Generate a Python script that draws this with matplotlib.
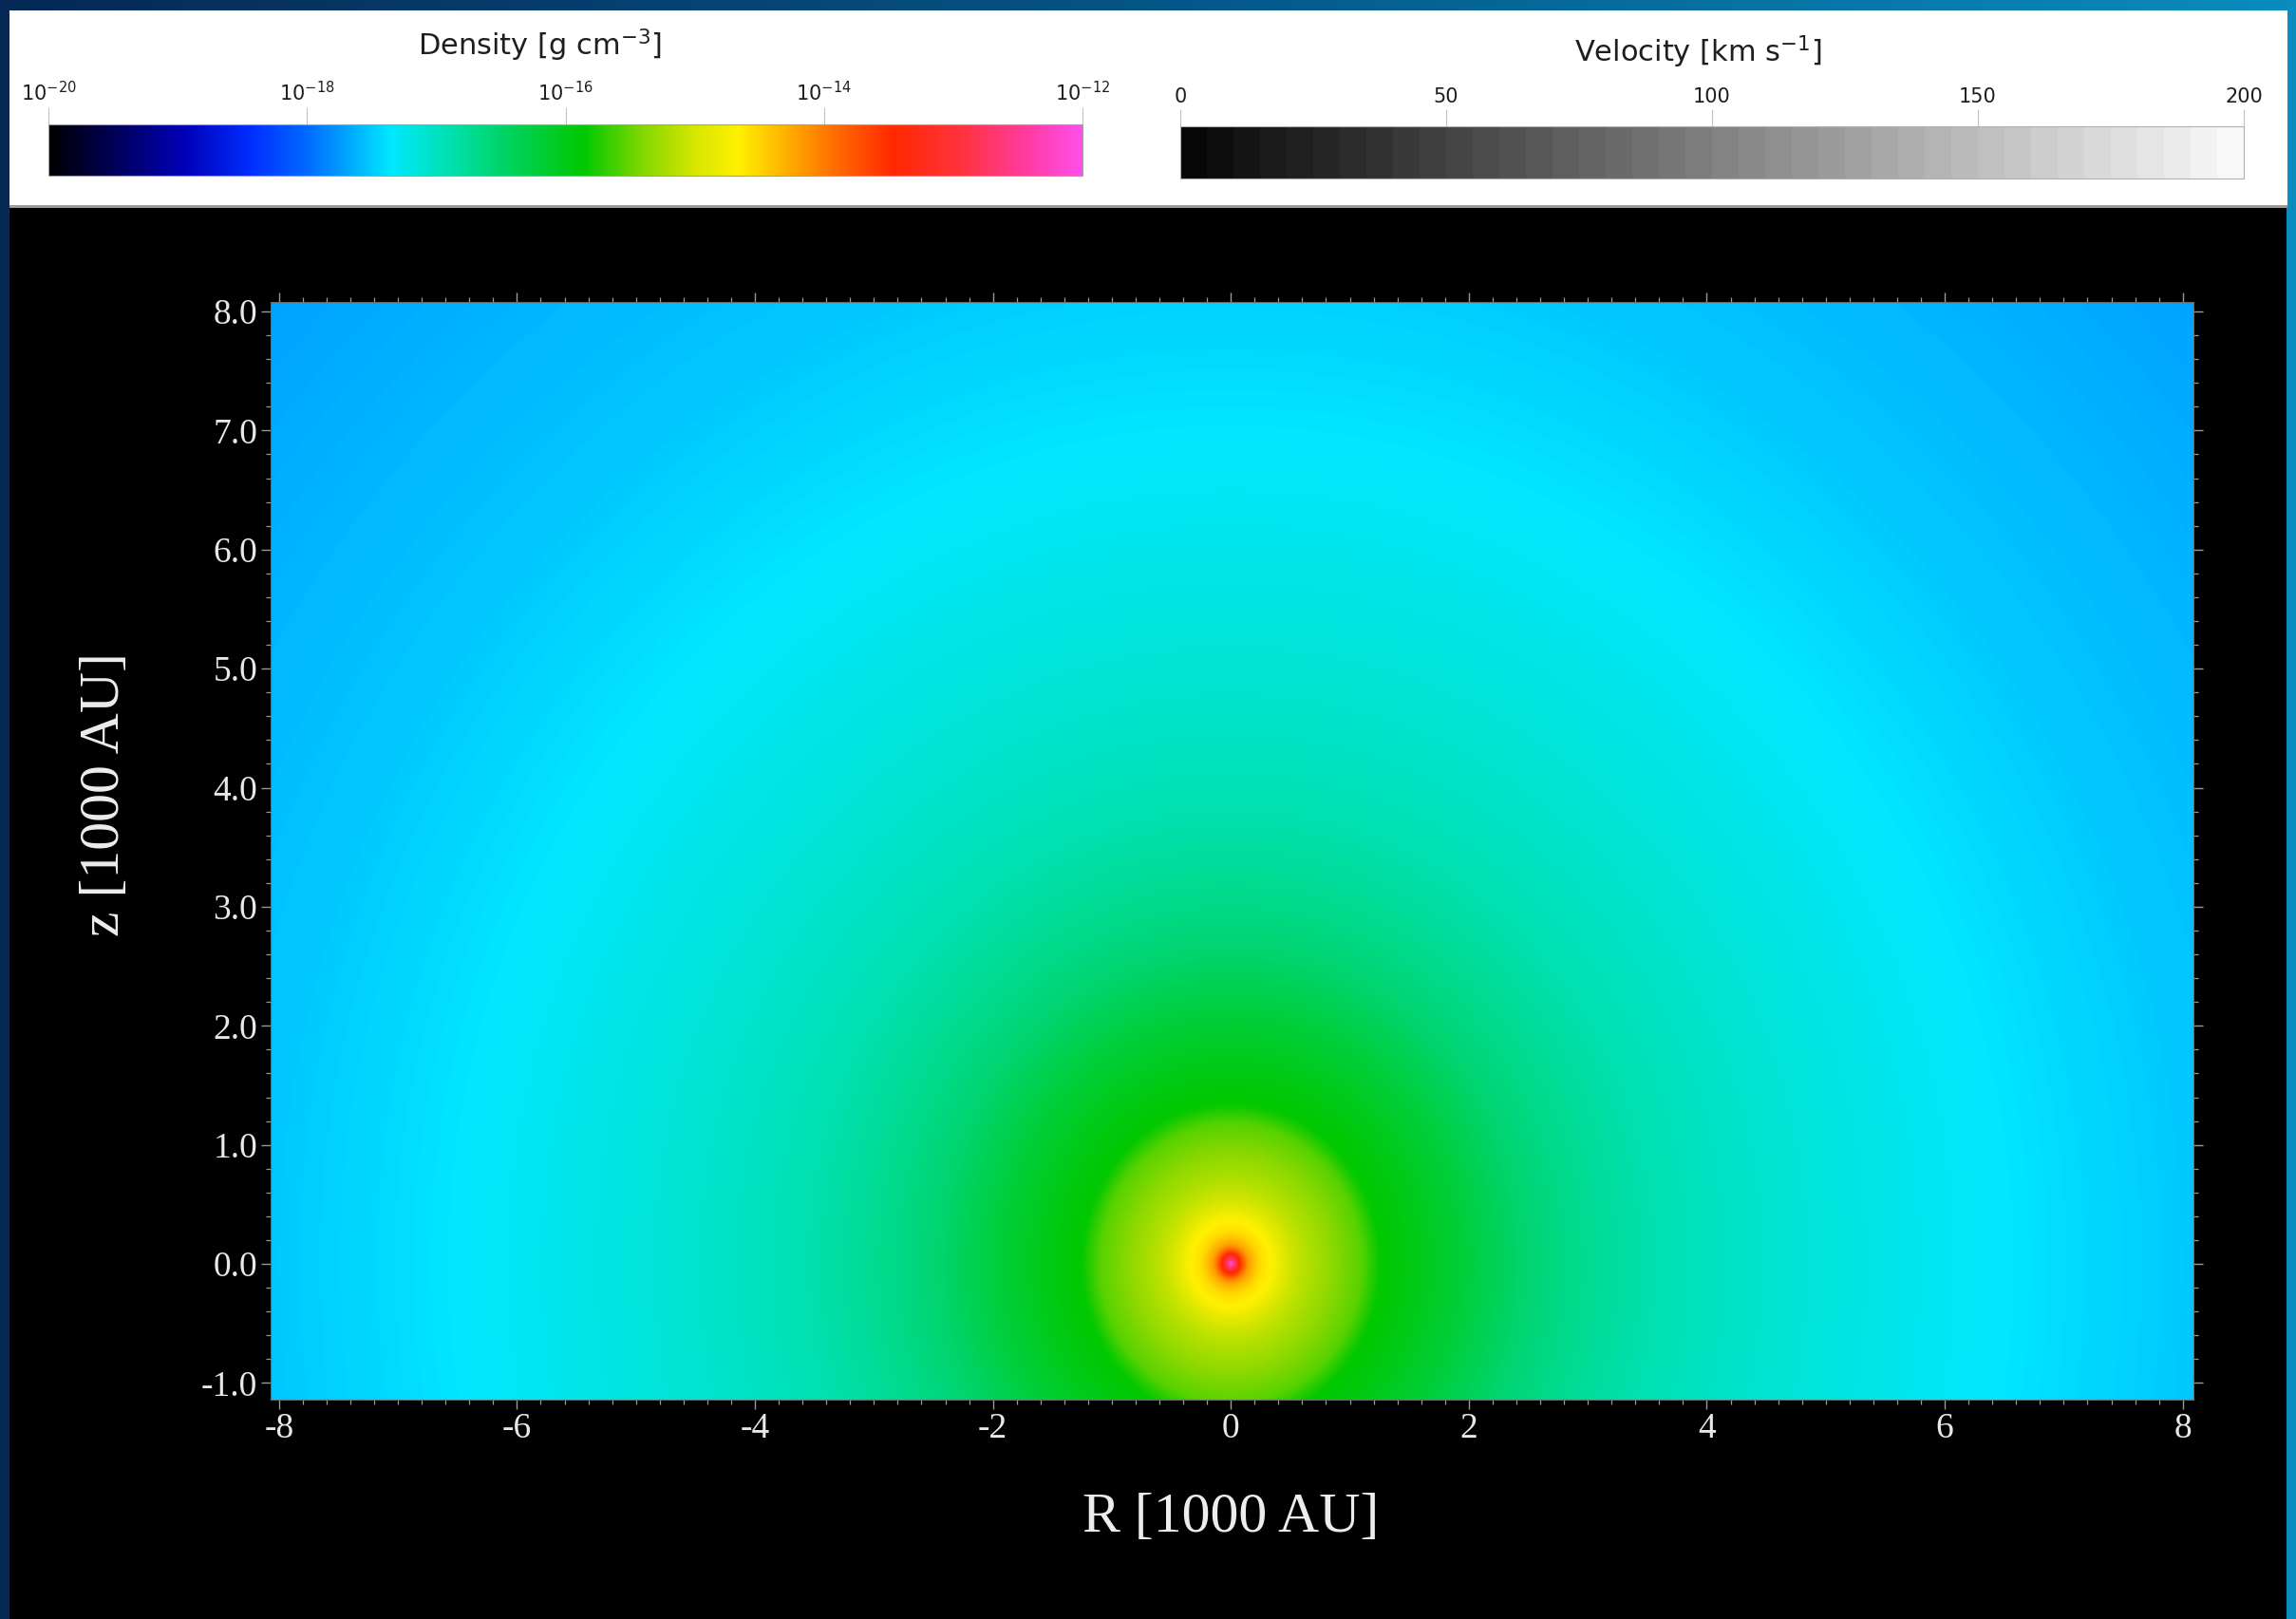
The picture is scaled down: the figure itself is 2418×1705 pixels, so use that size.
import numpy as np
import matplotlib
matplotlib.use("Agg")
import matplotlib.pyplot as plt
from matplotlib.colors import LinearSegmentedColormap, ListedColormap, Normalize
from matplotlib.patches import Rectangle
from matplotlib.ticker import MultipleLocator, FixedLocator
import matplotlib.cm as cm

# ---------------- data ----------------
# radial density profile around the central source (r in 1000 AU, log10 rho in g cm^-3)
radius_kau = [0.01, 0.04, 0.08, 0.15, 0.25, 0.36, 0.5, 0.8, 1.1, 1.25, 1.6,
              2.0, 2.5, 3.5, 5.0, 6.5, 8.0, 9.5, 11.5]
log_density = [-12.1, -12.8, -13.5, -14.2, -14.55, -14.7, -15.02, -15.3, -15.55, -15.84, -16.02,
               -16.24, -16.55, -16.88, -17.15, -17.35, -17.5, -17.6, -17.72]
vertical_stretch = 1.07   # slight elongation of iso-density contours along z

# density colour table (log10 rho -> colour)
cmap_levels = [-20.0, -19.6, -18.95, -18.44, -18.0, -17.64, -17.35, -16.95, -16.5,
               -15.86, -15.4, -15.0, -14.66, -14.2, -13.8, -13.46, -12.94, -12.37, -12.0]
cmap_colors = [(0, 0, 0), (0, 0, 70), (0, 0, 185), (0, 45, 255), (0, 105, 255),
               (0, 175, 255), (0, 232, 255), (0, 226, 185), (0, 212, 105),
               (0, 200, 0), (130, 215, 0), (215, 230, 0), (255, 240, 0), (255, 160, 0),
               (255, 90, 0), (255, 40, 0), (255, 50, 60), (255, 60, 170), (255, 80, 235)]

density_ticks = [-20, -18, -16, -14, -12]
density_ticklabels = [r"$10^{-20}$", r"$10^{-18}$", r"$10^{-16}$", r"$10^{-14}$", r"$10^{-12}$"]
velocity_ticks = [0, 50, 100, 150, 200]
velocity_ticklabels = ["0", "50", "100", "150", "200"]
velocity_steps = 40

r_ticks = [-8, -6, -4, -2, 0, 2, 4, 6, 8]
r_ticklabels = ["-8", "-6", "-4", "-2", "0", "2", "4", "6", "8"]
z_ticks = [-1.0, 0.0, 1.0, 2.0, 3.0, 4.0, 5.0, 6.0, 7.0, 8.0]
z_ticklabels = ["-1.0", "0.0", "1.0", "2.0", "3.0", "4.0", "5.0", "6.0", "7.0", "8.0"]
r_limits = (-8.07, 8.09)
z_limits = (-1.14, 8.08)

# ---------------- figure ----------------
W, H = 2418, 1705
fig = plt.figure(figsize=(W / 100, H / 100), dpi=100)


def px_rect(x0, y0, x1, y1):
    return [x0 / W, 1 - y1 / H, (x1 - x0) / W, (y1 - y0) / H]


# frame background
ax_bg = fig.add_axes([0, 0, 1, 1])
ax_bg.set_xlim(0, W)
ax_bg.set_ylim(H, 0)
ax_bg.axis("off")
grad = np.linspace(0, 1, 256)[None, :]
frame_cmap = LinearSegmentedColormap.from_list(
    "frame", [(5 / 255, 40 / 255, 85 / 255), (5 / 255, 85 / 255, 135 / 255),
              (10 / 255, 140 / 255, 190 / 255)])
ax_bg.imshow(grad, cmap=frame_cmap, extent=[0, W, H, 0], aspect="auto")
ax_bg.add_patch(Rectangle((10, 11), 2399, 206, facecolor="white", edgecolor="none"))
ax_bg.add_patch(Rectangle((10, 216), 2399, 3, facecolor="#9a9a9a", edgecolor="none"))
ax_bg.add_patch(Rectangle((10, 219), 2398, H - 219, facecolor="black", edgecolor="none"))

# density colormap
dens_cmap = LinearSegmentedColormap.from_list(
    "dens",
    [((v - cmap_levels[0]) / (cmap_levels[-1] - cmap_levels[0]),
      tuple(c / 255 for c in col)) for v, col in zip(cmap_levels, cmap_colors)],
    N=512)
dens_norm = Normalize(vmin=density_ticks[0], vmax=density_ticks[-1])

# main map
ax = fig.add_axes(px_rect(285, 318, 2310, 1474))
ax.set_facecolor("black")
Rg = np.linspace(r_limits[0], r_limits[1], 1600)
Zg = np.linspace(z_limits[0], z_limits[1], 920)
RR, ZZ = np.meshgrid(Rg, Zg)
r_eff = np.sqrt(RR ** 2 + (ZZ / vertical_stretch) ** 2)
r_eff = np.clip(r_eff, radius_kau[0], None)
field = np.interp(np.log10(r_eff), np.log10(radius_kau), log_density)
ax.imshow(field, cmap=dens_cmap, norm=dens_norm, origin="lower",
          extent=[r_limits[0], r_limits[1], z_limits[0], z_limits[1]],
          aspect="auto", interpolation="bilinear")
ax.set_xlim(*r_limits)
ax.set_ylim(*z_limits)
ax.xaxis.set_major_locator(FixedLocator(r_ticks))
ax.set_xticklabels(r_ticklabels)
ax.yaxis.set_major_locator(FixedLocator(z_ticks))
ax.set_yticklabels(z_ticklabels)
ax.xaxis.set_minor_locator(MultipleLocator(0.2))
ax.yaxis.set_minor_locator(MultipleLocator(0.2))
ax.tick_params(which="both", direction="out", color="#9a9a9a", top=True, right=True,
               labeltop=False, labelright=False)
ax.tick_params(which="major", length=7, width=1.0, pad=3,
               labelsize=27, labelcolor="#e8e8e8")
ax.tick_params(which="minor", length=3.5, width=0.9)
for lab in ax.get_xticklabels() + ax.get_yticklabels():
    lab.set_family(["Liberation Serif", "DejaVu Serif"])
for sp in ax.spines.values():
    sp.set_edgecolor("#6a6a6a")
    sp.set_linewidth(0.8)

fig.text(1296 / W, 1 - 1599 / H, "R [1000 AU]", ha="center", va="center",
         fontsize=43, color="#ededed", family=["Liberation Serif", "DejaVu Serif"])
fig.text(111 / W, 1 - 837 / H, "z [1000 AU]", ha="center", va="center", rotation=90,
         fontsize=43, color="#ededed", family=["Liberation Serif", "DejaVu Serif"])

# density colorbar
cax1 = fig.add_axes(px_rect(51, 131, 1140, 185))
cb1 = fig.colorbar(cm.ScalarMappable(norm=dens_norm, cmap=dens_cmap), cax=cax1,
                   orientation="horizontal")
cax1.xaxis.set_ticks_position("top")
cb1.set_ticks(density_ticks)
cb1.set_ticklabels(density_ticklabels)
cax1.tick_params(length=13, width=0.8, color="#c0c0c0", labelsize=15,
                 labelcolor="#1e1e1e", pad=2)
cb1.outline.set_edgecolor("#a0a0a0")
cb1.outline.set_linewidth(0.8)
fig.text(568 / W, 1 - 48 / H, r"Density [g cm$^{-3}$]", ha="center", va="center",
         fontsize=22, color="#1e1e1e", family="DejaVu Sans")

# velocity colorbar
vel_cmap = ListedColormap(plt.cm.gray(np.linspace(0.03, 0.97, velocity_steps)))
vel_norm = Normalize(vmin=velocity_ticks[0], vmax=velocity_ticks[-1])
cax2 = fig.add_axes(px_rect(1243, 133, 2363, 188))
cb2 = fig.colorbar(cm.ScalarMappable(norm=vel_norm, cmap=vel_cmap), cax=cax2,
                   orientation="horizontal")
cax2.xaxis.set_ticks_position("top")
cb2.set_ticks(velocity_ticks)
cb2.set_ticklabels(velocity_ticklabels)
cax2.tick_params(length=13, width=0.8, color="#c0c0c0", labelsize=15,
                 labelcolor="#1e1e1e", pad=2)
cb2.outline.set_edgecolor("#b0b0b0")
cb2.outline.set_linewidth(0.8)
fig.text(1788 / W, 1 - 55 / H, r"Velocity [km s$^{-1}$]", ha="center", va="center",
         fontsize=22, color="#1e1e1e", family="DejaVu Sans")

fig.savefig("out.png", dpi=100, facecolor="black")
